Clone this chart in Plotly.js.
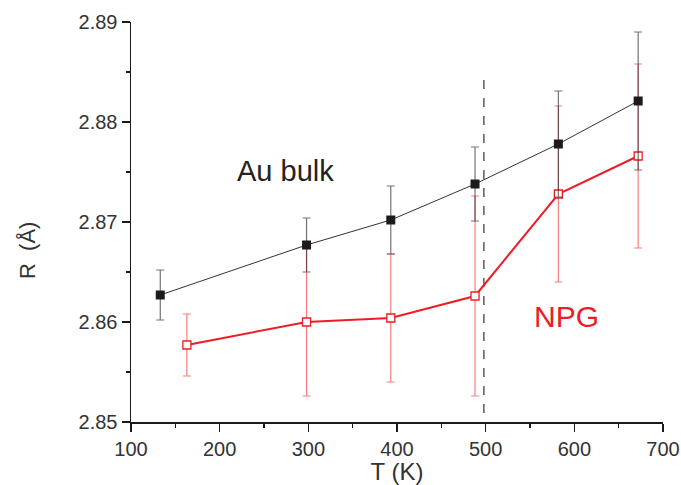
<!DOCTYPE html>
<html>
<head>
<meta charset="utf-8">
<script src="https://cdn.plot.ly/plotly-3.0.1.min.js"></script>
<style>html,body{margin:0;padding:0;background:#fff;}#chart{width:681px;height:485px;}</style>
</head>
<body>
<div id="chart"></div>
<script>
// Au bulk
var T_bulk = [133, 298, 393, 488, 582, 672];
var R_bulk = [2.8627, 2.8677, 2.8702, 2.8738, 2.8778, 2.8821];
var err_bulk = [0.0025, 0.0027, 0.0034, 0.0037, 0.0053, 0.0069];
// NPG
var T_npg = [163, 298, 393, 488, 582, 672];
var R_npg = [2.8577, 2.8600, 2.8604, 2.8626, 2.8728, 2.8766];
var err_npg = [0.0031, 0.0074, 0.0064, 0.0100, 0.0088, 0.0092];
// transition marker
var T_dash = 498;
var R_dash = [2.8509, 2.885];

var font = 'Liberation Sans, Arial, Helvetica, sans-serif';

var traces = [
  {
    x: T_npg, y: R_npg, type: 'scatter', mode: 'lines+markers', name: 'NPG',
    line: {color: '#ee1c25', width: 2},
    marker: {symbol: 'square', size: 8, color: '#ffffff', line: {color: '#ee1c25', width: 1.3}},
    error_y: {type: 'data', array: err_npg, visible: true, color: 'rgba(238,40,45,0.6)', thickness: 1.2, width: 4}
  },
  {
    x: T_bulk, y: R_bulk, type: 'scatter', mode: 'lines+markers', name: 'Au bulk',
    line: {color: '#333333', width: 1},
    marker: {symbol: 'square', size: 9, color: '#1c1a1b'},
    error_y: {type: 'data', array: err_bulk, visible: true, color: 'rgba(40,40,40,0.65)', thickness: 1.2, width: 4}
  }
];

var L = 131, R = 18, T = 22, B = 63;
var PW = 681 - L - R, PH = 485 - T - B;

var layout = {
  width: 681, height: 485,
  margin: {l: L, r: R, t: T, b: B},
  paper_bgcolor: '#ffffff', plot_bgcolor: '#ffffff',
  showlegend: false,
  font: {family: font, color: '#333333'},
  xaxis: {
    range: [100, 700], dtick: 100, tick0: 100,
    showgrid: false, zeroline: false,
    showline: true, linecolor: '#1a1a1a', linewidth: 1.5,
    ticks: 'outside', ticklen: 8, tickwidth: 1.3, tickcolor: '#1a1a1a',
    minor: {dtick: 50, tick0: 100, ticks: 'outside', ticklen: 4, tickwidth: 1.3, tickcolor: '#1a1a1a', showgrid: false},
    tickfont: {size: 20, color: '#333333', family: font},
    title: {text: 'T (K)', font: {size: 24, color: '#333333', family: font}, standoff: 6}
  },
  yaxis: {
    range: [2.85, 2.89], dtick: 0.01, tick0: 2.85, tickformat: '.2f',
    showgrid: false, zeroline: false,
    showline: true, linecolor: '#1a1a1a', linewidth: 1.5,
    ticks: 'outside', ticklen: 8, tickwidth: 1.3, tickcolor: '#1a1a1a',
    minor: {dtick: 0.005, tick0: 2.85, ticks: 'outside', ticklen: 4, tickwidth: 1.3, tickcolor: '#1a1a1a', showgrid: false},
    tickfont: {size: 20, color: '#333333', family: font}
  },
  shapes: [
    {type: 'line', xref: 'x', yref: 'y', x0: T_dash, x1: T_dash, y0: R_dash[0], y1: R_dash[1],
     line: {color: '#444444', width: 1.3, dash: 'dash'}, layer: 'below'}
  ],
  annotations: [
    {xref: 'paper', yref: 'paper', x: (285 - L) / PW, y: (485 - B - 171) / PH, text: 'Au bulk',
     showarrow: false, font: {size: 29, color: '#222222', family: font}, xanchor: 'center', yanchor: 'middle'},
    {xref: 'paper', yref: 'paper', x: (566 - L) / PW, y: (485 - B - 316) / PH, text: 'NPG',
     showarrow: false, font: {size: 30, color: '#ee1c25', family: font}, xanchor: 'center', yanchor: 'middle'},
    {xref: 'paper', yref: 'paper', x: (27 - L) / PW, y: (485 - B - 251) / PH, text: 'R  (Å)',
     textangle: -90, showarrow: false, font: {size: 22, color: '#333333', family: font}, xanchor: 'center', yanchor: 'middle'}
  ]
};

Plotly.newPlot('chart', traces, layout, {displayModeBar: false, staticPlot: true});
</script>
</body>
</html>
